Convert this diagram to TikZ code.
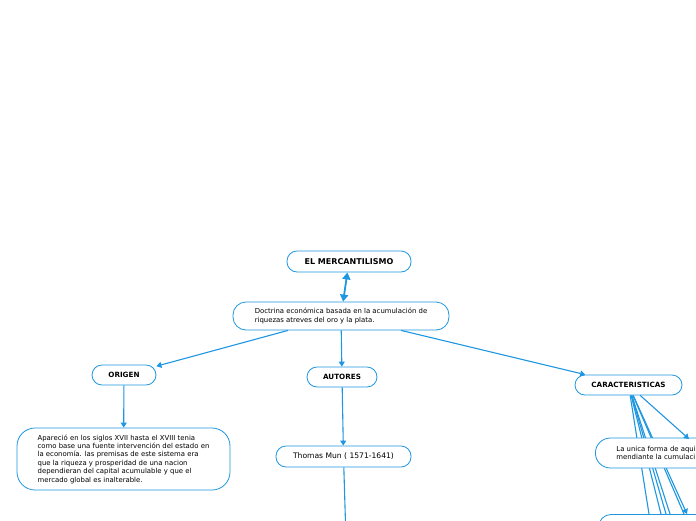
\documentclass[tikz,border=0pt]{standalone}
\usepackage{fontspec}
\setmainfont{DejaVu Sans}
\definecolor{mapblue}{RGB}{30, 150, 225}
\usetikzlibrary{arrows.meta, positioning}

\begin{document}
\begin{tikzpicture}[x=1pt, y=-1pt,
  topic/.style={draw=mapblue, line width=0.8pt, fill=white, rounded corners=10pt, inner sep=0pt, minimum height=20pt, font=\fontsize{7.2}{8}\selectfont\bfseries},
  textbox/.style={draw=mapblue, line width=0.8pt, fill=white, rounded corners=13pt, inner sep=0pt, align=left, font=\fontsize{6.9}{8.4}\selectfont},
  link/.style={draw=mapblue, line width=1.1pt},
  linkarrow/.style={link, -{Triangle[length=5pt, width=6pt]}}
]
  \useasboundingbox (0, 0) rectangle (696, 520);
  \clip (0, 0) rectangle (696, 520);

  % ===== Centre =====
  \node[topic, font=\fontsize{8}{9}\selectfont\bfseries, minimum width=124pt, minimum height=21pt] (merc) at (349, 261.5) {EL MERCANTILISMO};
  \node[textbox, minimum width=216pt, minimum height=28pt] (doct) at (341, 316) {Doctrina económica basada en la acumulación de\\riquezas atreves del oro y la plata.};

  \draw[link, line width=1.8pt, {Triangle[length=7pt, width=8pt]}-{Triangle[length=7pt, width=8pt]}] (merc) -- (doct);

  % ===== Branches =====
  \node[topic, minimum width=64pt] (orig) at (124, 375) {ORIGEN};
  \node[topic, minimum width=70pt] (aut) at (342, 377) {AUTORES};
  \node[topic, minimum width=107pt] (car) at (628.5, 385) {CARACTERISTICAS};

  \draw[linkarrow] (doct) -- (orig);
  \draw[linkarrow] (doct) -- (aut);
  \draw[linkarrow] (doct) -- (car);

  % Origen
  \node[textbox, rounded corners=18pt, minimum width=213pt, minimum height=62pt] (apar) at (123.5, 459) {Apareció en los siglos XVII hasta el XVIII tenia\\como base una fuente intervención del estado en\\la economía. las premisas de este sistema era\\que la riqueza y prosperidad de una nacion\\dependieran del capital acumulable y que el\\mercado global es inalterable.};
  \draw[linkarrow] (orig) -- (apar);

  % Autores
  \node[topic, font=\fontsize{7.6}{9}\selectfont, minimum width=135pt, minimum height=21pt] (mun) at (343.5, 456.5) {Thomas Mun ( 1571-1641)};
  \draw[linkarrow] (aut) -- (mun);
  \coordinate (munnext) at (346, 540);
  \draw[link] (mun) -- (munnext);

  % Caracteristicas (lines pass behind the boxes)
  \coordinate (f1) at (649, 514);
  \coordinate (f2) at (661, 514);
  \coordinate (f3) at (666, 514);
  \coordinate (f4) at (670, 514);
  \coordinate (f5) at (684, 514);
  \coordinate (f6) at (687, 514);
  \foreach \f in {f1, f2, f3, f4, f5}
    \draw[link] (car) -- (\f);
  \draw[linkarrow] (car) -- (f6);

  \node[textbox, anchor=west, rounded corners=15pt, minimum height=30pt, inner xsep=21pt] (unica) at (595, 453) {La unica forma de aqui\\mendiante la cumulaci};
  \coordinate (c1) at (689, 439);
  \draw[linkarrow] (car) -- (c1);

  \node[textbox, anchor=north west, minimum width=200pt, minimum height=30pt] (bot) at (598, 514) {};
\end{tikzpicture}
\end{document}
